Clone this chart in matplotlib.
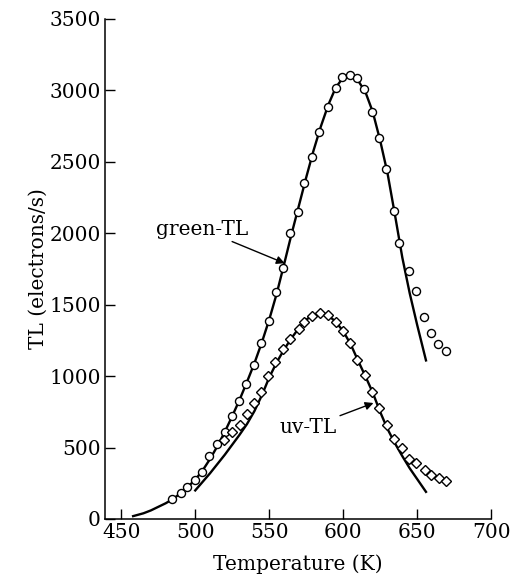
import matplotlib
matplotlib.use('Agg')
import matplotlib.pyplot as plt

plt.rcParams['font.family'] = ['DejaVu Serif']

# measured points (circles) for green-TL
green_T = [484.6, 490.2, 494.7, 499.7, 504.4, 509.6, 514.7, 519.9, 524.7, 529.6,
           534.6, 539.7, 544.3, 549.7, 554.6, 559.3, 563.9, 569.5, 573.5, 578.9,
           583.9, 589.5, 594.9, 599.5, 604.4, 609.3, 614.3, 619.5, 624.5, 628.9,
           634.6, 637.5, 644.6, 649.3, 654.6, 659.1, 664.3, 669.5]
green_TL = [138, 184, 226, 273, 329, 443, 523, 607, 721, 828,
            945, 1078, 1230, 1388, 1591, 1759, 2000, 2147, 2350, 2536,
            2711, 2886, 3019, 3096, 3108, 3085, 3008, 2847, 2665, 2452,
            2158, 1934, 1736, 1598, 1416, 1304, 1227, 1176]

# measured points (diamonds) for uv-TL
uv_T = [519.2, 525.0, 530.1, 535.0, 539.6, 544.7, 549.2, 554.2, 559.3, 563.9,
        569.9, 573.5, 578.9, 584.1, 589.7, 594.9, 599.9, 604.4, 609.3, 614.5,
        619.6, 624.2, 629.6, 634.3, 639.5, 644.5, 649.5, 655.1, 659.1, 664.5,
        669.7]
uv_TL = [550, 611, 658, 735, 810, 891, 1001, 1101, 1190, 1258,
         1330, 1381, 1421, 1444, 1428, 1381, 1318, 1230, 1113, 1008,
         891, 775, 658, 560, 495, 418, 394, 343, 308, 285,
         268]

# fitted curves
green_fit_T = [458, 465, 470, 475, 480, 485, 490, 495, 500, 505, 510, 515, 520,
               525, 530, 535, 540, 545, 550, 555, 560, 565, 570, 575, 580, 585,
               590, 595, 600, 605, 610, 615, 620, 625, 630, 635, 640, 645, 650, 656]
green_fit_TL = [20, 40, 60, 85, 110, 140, 180, 225, 275, 340, 420, 510, 610,
                720, 835, 960, 1090, 1235, 1395, 1575, 1780, 1990, 2190, 2390, 2580, 2750,
                2900, 3020, 3090, 3105, 3070, 2990, 2850, 2650, 2420, 2130, 1830, 1580, 1360, 1110]

uv_fit_T = [500, 505, 510, 515, 520, 525, 530, 535, 540, 545, 550, 555, 560,
            565, 570, 575, 580, 585, 590, 595, 600, 605, 610, 615, 620, 625,
            630, 635, 640, 645, 650, 656]
uv_fit_TL = [200, 260, 320, 385, 450, 520, 590, 665, 755, 865, 990, 1095, 1185,
             1265, 1335, 1395, 1430, 1445, 1425, 1380, 1315, 1225, 1110, 1000, 885, 750,
             630, 530, 440, 355, 280, 190]

fig = plt.figure(figsize=(5.11, 5.75), dpi=100)
ax = fig.add_axes([0.2055, 0.0974, 0.7555, 0.8696])

ax.plot(green_fit_T, green_fit_TL, color='black', linewidth=1.7, zorder=2)
ax.plot(uv_fit_T, uv_fit_TL, color='black', linewidth=1.7, zorder=2)
ax.plot(green_T, green_TL, 'o', markersize=5.8, markerfacecolor='white',
        markeredgecolor='black', markeredgewidth=1.0, zorder=3)
ax.plot(uv_T, uv_TL, 'D', markersize=5.0, markerfacecolor='white',
        markeredgecolor='black', markeredgewidth=1.0, zorder=3)

# labels with arrows
ax.annotate('green-TL', xy=(560.5, 1790), xytext=(536, 2028),
            ha='right', va='center', fontsize=14.5,
            arrowprops=dict(arrowstyle='-|>', color='black', lw=1.0,
                            mutation_scale=12, shrinkA=0, shrinkB=0))
ax.annotate('uv-TL', xy=(620.5, 812), xytext=(596, 640),
            ha='right', va='center', fontsize=14.5,
            arrowprops=dict(arrowstyle='-|>', color='black', lw=1.0,
                            mutation_scale=12, shrinkA=0, shrinkB=0))

ax.set_xlim(439, 700)
ax.set_ylim(0, 3500)
ax.set_xticks([450, 500, 550, 600, 650, 700])
ax.set_yticks([0, 500, 1000, 1500, 2000, 2500, 3000, 3500])
ax.spines['top'].set_visible(False)
ax.spines['right'].set_visible(False)
for s in ['left', 'bottom']:
    ax.spines[s].set_linewidth(1.1)
ax.tick_params(direction='in', length=7, width=1.0, labelsize=14.5, pad=3)

ax.set_xlabel('Temperature (K)', fontsize=14.5, labelpad=9)
ax.set_ylabel('TL (electrons/s)', fontsize=14.5, labelpad=1)

fig.savefig('out.png', dpi=100)
